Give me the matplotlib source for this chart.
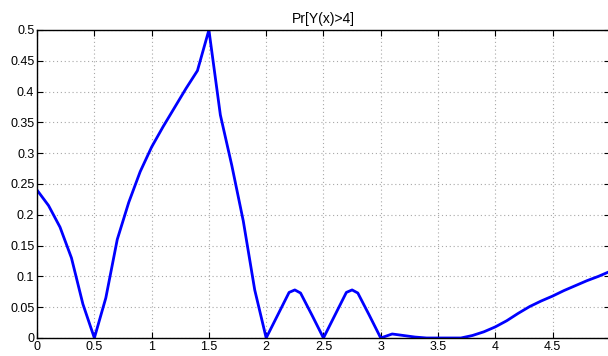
import matplotlib.pyplot as plt
import numpy as np

# Valores
x = [0.0, 0.1, 0.2, 0.3, 0.4, 0.5, 0.6, 0.7, 0.8, 0.9, 1.0, 1.1, 1.2, 1.3, 1.4, 1.5,
     1.6, 1.7, 1.8, 1.9, 2.0, 2.1, 2.2, 2.25, 2.3, 2.4, 2.5, 2.6, 2.7, 2.75, 2.8, 2.9,
     3.0, 3.1, 3.2, 3.3, 3.4, 3.5, 3.6, 3.7, 3.8, 3.9, 4.0, 4.1, 4.2, 4.3, 4.4, 4.5,
     4.6, 4.7, 4.8, 4.9, 5.0]
p = [0.24, 0.215, 0.18, 0.13, 0.055, 0.0, 0.065, 0.16, 0.22, 0.27, 0.31, 0.343, 0.374, 0.405, 0.434, 0.5,
     0.362, 0.28, 0.19, 0.078, 0.0, 0.037, 0.074, 0.078, 0.073, 0.037, 0.0, 0.037, 0.074, 0.078, 0.073, 0.037,
     0.0, 0.0065, 0.004, 0.0015, 0.0, 0.0, 0.0, 0.0, 0.004, 0.01, 0.018, 0.028, 0.04, 0.051, 0.06, 0.068,
     0.077, 0.085, 0.093, 0.1, 0.108]
xticks = [0, 0.5, 1, 1.5, 2, 2.5, 3, 3.5, 4, 4.5]
yticks = [0, 0.05, 0.1, 0.15, 0.2, 0.25, 0.3, 0.35, 0.4, 0.45, 0.5]

plt.rcParams['font.family'] = ['Liberation Sans', 'DejaVu Sans']

fig = plt.figure(figsize=(6.08, 3.56), dpi=100)
ax = fig.add_axes([0.061, 0.0506, 0.942, 0.8652])
ax.plot(x, p, color='#0000ff', linewidth=2.0)

ax.set_xlim(0, 5)
ax.set_ylim(0, 0.5)
ax.set_xticks(xticks)
ax.set_xticklabels([f'{t:g}' for t in xticks])
ax.set_yticks(yticks)
ax.set_yticklabels([f'{t:g}' for t in yticks])
ax.tick_params(direction='in', length=4, width=0.8, labelsize=9, top=True, right=True, pad=2)
ax.grid(True, color='#a8a8a8', linestyle=(0, (1, 2.5)), linewidth=0.8)
for s in ax.spines.values():
    s.set_linewidth(1.0)
ax.set_title('Pr[Y(x)>4]', fontsize=10, pad=5)

fig.savefig('out.png', dpi=100)
